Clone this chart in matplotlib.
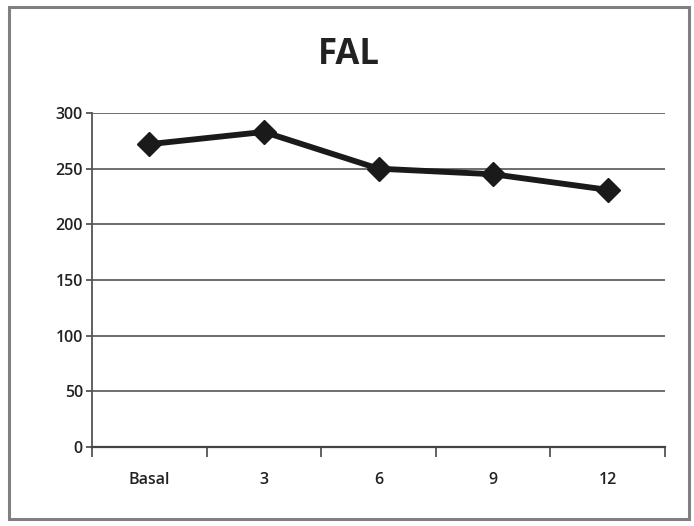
import matplotlib
matplotlib.use("Agg")
import matplotlib.pyplot as plt
from matplotlib.patches import Rectangle

categories = ["Basal", "3", "6", "9", "12"]
values = [272, 283, 250, 245, 231]
yticks = [0, 50, 100, 150, 200, 250, 300]
title = "FAL"

plt.rcParams['font.family'] = ['Open Sans', 'DejaVu Sans']

fig = plt.figure(figsize=(6.94, 5.26), dpi=100)
ax = fig.add_axes([92/694, 1-447/526, (665-92)/694, (447-113)/526])

x = list(range(len(categories)))
ax.plot(x, values, color="#1a1a1a", linewidth=4.2, marker="D", markersize=12,
        markerfacecolor="#1a1a1a", markeredgecolor="#1a1a1a", zorder=3, clip_on=False)

ax.set_xlim(-0.5, len(categories) - 0.5)
ax.set_ylim(0, 300)
ax.set_yticks(yticks)
ax.set_yticklabels([str(v) for v in yticks], fontsize=11.5, color="#222222",
                   fontweight='semibold')
ax.set_xticks(x)
ax.set_xticklabels(categories, fontsize=11.5, color="#222222", fontweight='semibold')
ax.tick_params(axis='x', length=0, pad=18)
ax.set_xticks([i - 0.5 for i in range(len(categories) + 1)], minor=True)
ax.tick_params(axis='x', which='minor', length=7, width=1.3, color="#555555", direction='out')
ax.tick_params(axis='y', length=4.5, width=1.3, color="#555555", direction='out', pad=2)

ax.grid(axis='y', color="#6e6e6e", linewidth=1.4, zorder=0)
ax.set_axisbelow(True)
for s in ['top', 'right']:
    ax.spines[s].set_visible(False)
ax.spines['left'].set_color("#555555")
ax.spines['left'].set_linewidth(1.3)
ax.spines['bottom'].set_color("#444444")
ax.spines['bottom'].set_linewidth(1.6)

fig.text(349/694, 1-55/526, title, ha='center', va='center', fontsize=25,
         fontweight='bold', color="#222222")

fig.patches.append(Rectangle((9/694, 1-519/526), (689-9)/694, (519-7)/526,
                             transform=fig.transFigure, fill=False,
                             edgecolor="#808080", linewidth=2.2))

fig.savefig("out.png", dpi=100)
